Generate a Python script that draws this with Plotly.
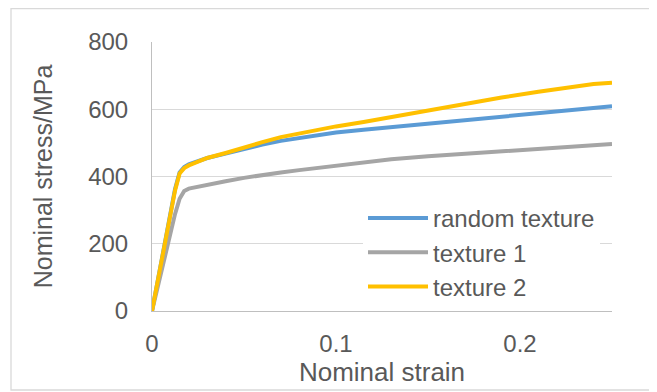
import plotly.graph_objects as go

# ---- data ----
random_x = [0, 0.005, 0.010, 0.0125, 0.015, 0.0175, 0.02, 0.025, 0.03, 0.04, 0.05, 0.06,
            0.07, 0.08, 0.09, 0.10, 0.115, 0.13, 0.15, 0.17, 0.19, 0.21, 0.23, 0.25]
random_y = [0, 150, 292, 362, 412, 428, 436, 446, 455, 468, 482, 495,
            506, 515, 523, 531, 539, 547, 558, 569, 579, 589, 599, 609]

tex1_x = [0, 0.005, 0.010, 0.0125, 0.015, 0.0175, 0.02, 0.025, 0.03, 0.04, 0.05, 0.06,
          0.07, 0.08, 0.09, 0.10, 0.115, 0.13, 0.15, 0.17, 0.19, 0.21, 0.23, 0.25]
tex1_y = [0, 118, 228, 288, 334, 357, 364, 370, 376, 386, 396, 405,
          412, 419, 426, 433, 441, 451, 460, 468, 476, 484, 489, 497]

tex2_x = [0, 0.005, 0.010, 0.0125, 0.015, 0.0175, 0.02, 0.025, 0.03, 0.04, 0.05, 0.06,
          0.07, 0.08, 0.09, 0.10, 0.115, 0.13, 0.15, 0.17, 0.19, 0.21, 0.23, 0.24, 0.25]
tex2_y = [0, 146, 287, 358, 409, 425, 433, 445, 455, 470, 487, 502,
          517, 528, 539, 549, 562, 577, 596, 615, 635, 652, 667, 675, 679]

series_names = ["random texture", "texture 1", "texture 2"]
series_colors = ["#5B9BD5", "#A5A5A5", "#FFC000"]

x_ticks = [0, 0.1, 0.2]
x_tick_labels = ["0", "0.1", "0.2"]
y_ticks = [0, 200, 400, 600, 800]
y_tick_labels = ["0", "200", "400", "600", "800"]

FONT = "Liberation Sans"
TXT = "#595959"

fig = go.Figure()
for name, xs, ys, col in zip(series_names, [random_x, tex1_x, tex2_x],
                             [random_y, tex1_y, tex2_y], series_colors):
    fig.add_trace(go.Scatter(x=xs, y=ys, mode="lines", name=name, legendgroup=name,
                             line=dict(color=col, width=4)))

fig.update_layout(
    width=649, height=384,
    margin=dict(l=144, r=45, t=34, b=81),
    paper_bgcolor="white", plot_bgcolor="white",
    font=dict(family=FONT, color=TXT, size=24),
    showlegend=True,
    legend=dict(x=(363 - 152) / 460, y=(311 - 196) / 269, xanchor="left", yanchor="top",
                bgcolor="white", borderwidth=0, itemwidth=60,
                tracegroupgap=0,
                font=dict(family=FONT, size=24, color=TXT)),
    xaxis=dict(range=[0, 0.25], tickvals=x_ticks, ticktext=x_tick_labels,
               showgrid=False, zeroline=False, showline=True, linecolor="#BFBFBF",
               linewidth=1, ticks="", ticklabelstandoff=11,
               title=dict(text="Nominal strain", font=dict(size=26), standoff=0)),
    yaxis=dict(range=[0, 800], tickvals=y_ticks, ticktext=y_tick_labels,
               showgrid=True, gridcolor="#D9D9D9", gridwidth=1.3, zeroline=False,
               showline=True, linecolor="#BFBFBF", linewidth=1, ticks="",
               ticklabelstandoff=18,
               title=dict(text="Nominal stress/MPa", font=dict(size=25), standoff=28)),
    shapes=[
        dict(type="rect", xref="paper", yref="paper",
             x0=-0.3065, x1=1.0935, y0=-0.2937, y1=1.1245,
             line=dict(color="#D9D9D9", width=1.3), fillcolor="rgba(0,0,0,0)"),
        dict(type="rect", xref="paper", yref="paper", layer="between",
             x0=(342 - 152) / 460, x1=0.999, y0=(311 - 305) / 269, y1=(311 - 198) / 269,
             line=dict(width=0), fillcolor="white"),
    ],
)

fig.write_html("out.html")
